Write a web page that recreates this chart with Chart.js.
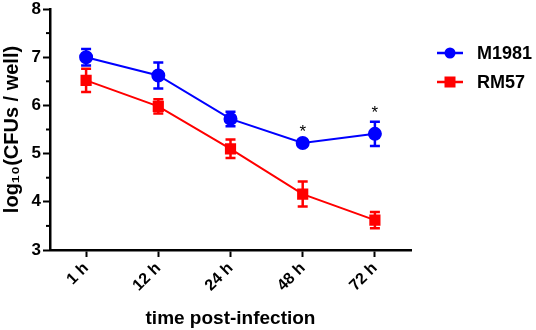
<!DOCTYPE html>
<html>
<head>
<meta charset="utf-8">
<script src="https://cdn.jsdelivr.net/npm/chart.js@4"></script>
<style>
    html, body { margin: 0; padding: 0; background: #fff; }
    #wrap { width: 536px; height: 330px; position: relative; }
</style>
</head>
<body>
<div id="wrap"><canvas id="cfuChart"></canvas></div>
<script>
// values
const timeLabels = ['1 h', '12 h', '24 h', '48 h', '72 h'];
const m1981Mean = [7.0, 6.62, 5.72, 5.22, 5.41];
const m1981Err = [0.17, 0.27, 0.15, 0.06, 0.25];
const rm57Mean = [6.52, 5.98, 5.1, 4.16, 3.62];
const rm57Err = [0.24, 0.15, 0.19, 0.26, 0.17];
const signifMarks = ['', '', '', '*', '*'];
const yTicks = [3, 4, 5, 6, 7, 8];

const BLUE = '#0000ff';
const RED = '#ff0000';
const FONT = 'Liberation Sans, Arial, sans-serif';

// error bars + minor ticks + asterisks + legend
const extrasPlugin = {
    id: 'extras',
    afterDatasetsDraw(chart) {
        const ctx = chart.ctx;
        const x = chart.scales.x;
        const y = chart.scales.y;

        chart.data.datasets.forEach(ds => {
            ctx.save();
            ctx.strokeStyle = ds.borderColor;
            ctx.lineWidth = 2.5;
            ds.data.forEach((v, i) => {
                const px = x.getPixelForValue(i);
                const top = y.getPixelForValue(v + ds.errors[i]);
                const bot = y.getPixelForValue(v - ds.errors[i]);
                ctx.beginPath();
                ctx.moveTo(px, top); ctx.lineTo(px, bot);
                ctx.moveTo(px - 5, top); ctx.lineTo(px + 5, top);
                ctx.moveTo(px - 5, bot); ctx.lineTo(px + 5, bot);
                ctx.stroke();
            });
            ctx.restore();
        });

        // asterisks over M1981
        ctx.save();
        ctx.fillStyle = '#000';
        ctx.font = '17px ' + FONT;
        ctx.textAlign = 'center';
        ctx.textBaseline = 'middle';
        signifMarks.forEach((s, i) => {
            if (!s) return;
            const top = y.getPixelForValue(m1981Mean[i] + m1981Err[i]);
            ctx.fillText(s, x.getPixelForValue(i), top - 8);
        });
        ctx.restore();

        // minor y ticks
        ctx.save();
        ctx.strokeStyle = '#000';
        ctx.lineWidth = 2;
        for (let k = 0; k < yTicks.length - 1; k++) {
            const py = y.getPixelForValue(yTicks[k] + 0.5);
            ctx.beginPath();
            ctx.moveTo(y.right - 4, py);
            ctx.lineTo(y.right, py);
            ctx.stroke();
        }
        ctx.restore();

        // legend
        ctx.save();
        const items = [
            { label: 'M1981', color: BLUE, style: 'circle', cy: 53 },
            { label: 'RM57', color: RED, style: 'rect', cy: 82 }
        ];
        items.forEach(it => {
            ctx.strokeStyle = it.color;
            ctx.fillStyle = it.color;
            ctx.lineWidth = 2.5;
            ctx.beginPath();
            ctx.moveTo(437, it.cy); ctx.lineTo(463, it.cy);
            ctx.stroke();
            if (it.style === 'circle') {
                ctx.beginPath();
                ctx.arc(450, it.cy, 5.5, 0, Math.PI * 2);
                ctx.fill();
            } else {
                ctx.fillRect(444.5, it.cy - 5.5, 11, 11);
            }
            ctx.fillStyle = '#000';
            ctx.font = 'bold 18px ' + FONT;
            ctx.textAlign = 'left';
            ctx.textBaseline = 'middle';
            ctx.fillText(it.label, 477, it.cy + 1);
        });
        ctx.restore();
    }
};

const ctx = document.getElementById('cfuChart').getContext('2d');
new Chart(ctx, {
    type: 'line',
    data: {
        labels: timeLabels,
        datasets: [
            {
                label: 'M1981',
                data: m1981Mean,
                errors: m1981Err,
                borderColor: BLUE,
                backgroundColor: BLUE,
                borderWidth: 2,
                pointStyle: 'circle',
                pointRadius: 6,
                tension: 0
            },
            {
                label: 'RM57',
                data: rm57Mean,
                errors: rm57Err,
                borderColor: RED,
                backgroundColor: RED,
                borderWidth: 2,
                pointStyle: 'rect',
                pointRadius: 6.5,
                tension: 0
            }
        ]
    },
    options: {
        responsive: true,
        maintainAspectRatio: false,
        animation: false,
        layout: { padding: { top: 0, right: 125, bottom: 0, left: 0 } },
        plugins: {
            legend: { display: false },
            tooltip: { enabled: false }
        },
        scales: {
            x: {
                offset: true,
                afterFit: axis => { axis.height = 80; },
                border: { color: '#000', width: 2.5 },
                grid: {
                    offset: false,
                    drawOnChartArea: false,
                    drawTicks: true,
                    tickLength: 7,
                    tickWidth: 2,
                    tickColor: '#000'
                },
                ticks: {
                    color: '#000',
                    font: { family: FONT, size: 16, weight: 'bold' },
                    minRotation: 45,
                    maxRotation: 45,
                    padding: 2
                },
                title: {
                    display: true,
                    text: 'time post-infection',
                    color: '#000',
                    font: { family: FONT, size: 19, weight: 'bold' },
                    padding: { top: 4, bottom: 0 }
                }
            },
            y: {
                min: 3,
                max: 8,
                afterBuildTicks: axis => {
                    axis.ticks = yTicks.map(v => ({ value: v }));
                },
                afterFit: axis => {
                    axis.width = 50;
                    axis.paddingTop = 9;
                    axis.paddingBottom = 9;
                },
                border: { color: '#000', width: 2.5 },
                grid: {
                    drawOnChartArea: false,
                    drawTicks: true,
                    tickLength: 7,
                    tickWidth: 2,
                    tickColor: '#000'
                },
                ticks: {
                    color: '#000',
                    font: { family: FONT, size: 17, weight: 'bold' },
                    padding: 2
                },
                title: {
                    display: true,
                    text: 'log\u2081\u2080(CFUs / well)',
                    color: '#000',
                    font: { family: FONT, size: 20, weight: 'bold' },
                    padding: { top: 0, bottom: 0 }
                }
            }
        }
    },
    plugins: [extrasPlugin]
});
</script>
</body>
</html>
